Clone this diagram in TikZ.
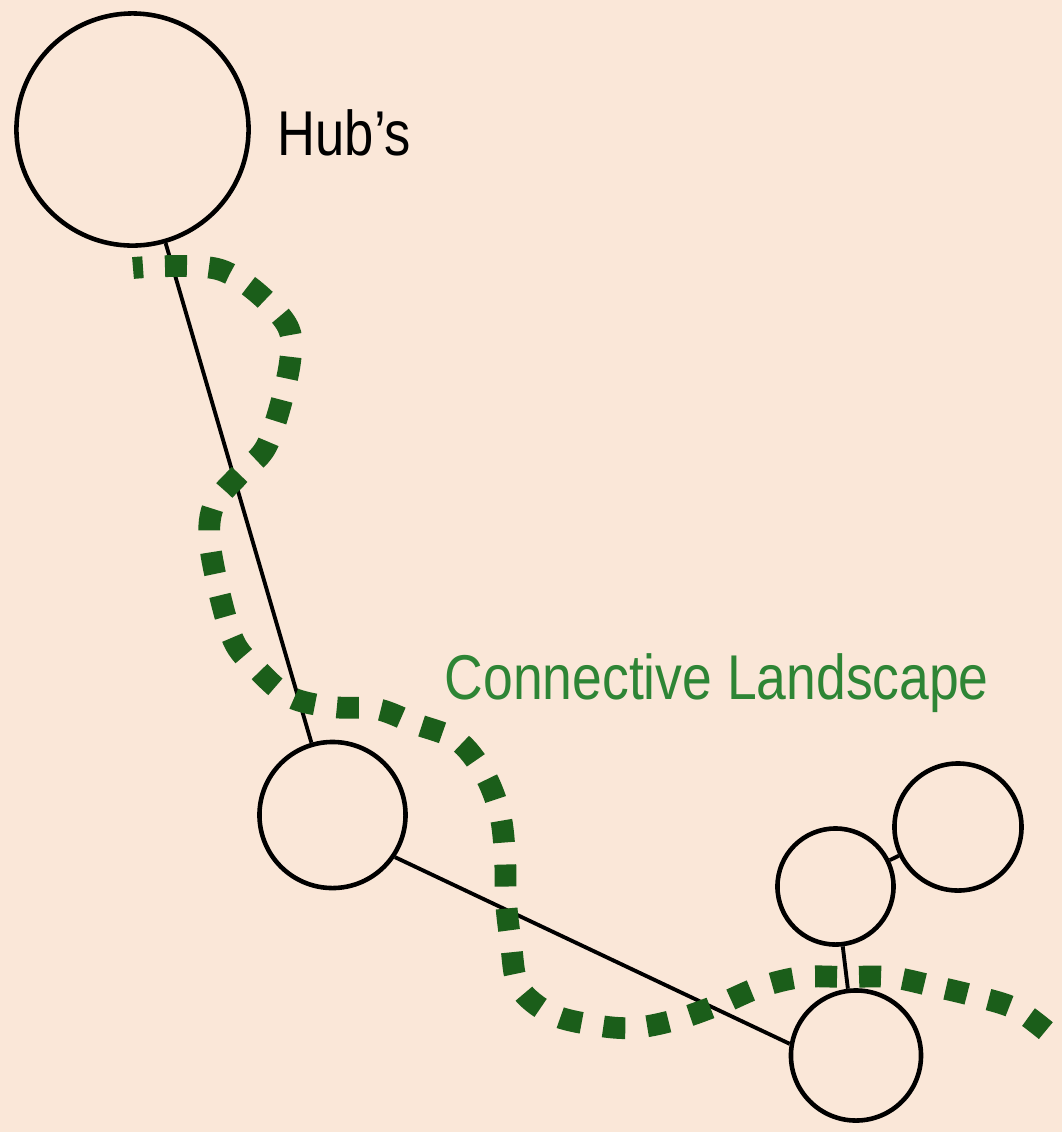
\documentclass[tikz,border=0pt]{standalone}
\usepackage{fontspec}
\setmainfont{Liberation Sans}[FakeStretch=0.83]
\newfontfamily\landfont{Liberation Sans}[FakeStretch=0.845]
\usetikzlibrary{positioning}

\definecolor{paper}{HTML}{FAE7D8}
\definecolor{landgreen}{HTML}{1B5E1A}
\definecolor{labgreen}{HTML}{2E8535}

\begin{document}
\begin{tikzpicture}[x=0.01cm, y=-0.01cm, font=\fontsize{18pt}{20pt}\selectfont,
  hub/.style={circle, draw, line width=1.3pt, inner sep=0pt},
  link/.style={line width=1.1pt},
  land/.style={landgreen, line width=6.2pt, dash pattern=on 0.22cm off 0.22cm, dash phase=0.12cm}]
  \fill[paper] (0,0) rectangle (1062,1132);
  \useasboundingbox (0,0) rectangle (1062,1132);

  \node[hub, minimum size=2.32cm] (big) at (132.5,129.5) {};
  \node[hub, minimum size=1.46cm] (mid) at (332.5,815) {};
  \node[hub, minimum size=1.30cm] (low) at (856,1055.5) {};
  \node[hub, minimum size=1.16cm] (small) at (835.5,886.5) {};
  \node[hub, minimum size=1.27cm] (side) at (958,827) {};

  \node[anchor=base west, inner sep=0pt] (hublab) at (277,155.5) {Hub’s};
  \node[anchor=base west, inner sep=0pt, text=labgreen, font=\fontsize{18pt}{20pt}\landfont] (landlab) at (444,699) {Connective Landscape};

  \draw[link] (big) -- (mid);
  \draw[link] (mid.-34) -- (low.170);
  \draw[link] (small) -- (low);
  \draw[link] (small) -- (side);

  \draw[land] plot[smooth, tension=0.55] coordinates {
    (133,268) (221,270) (283,319) (290,362) (268,443) (239,475) (213,507)
    (211,552) (232,637) (258,670) (290,697) (332,707) (377,709) (416,724)
    (457,740) (484,773) (500,814) (505,857) (506,901) (511,944) (519,987)
    (551,1014) (594,1025) (633,1028) (675,1020) (718,1005) (760,987)
    (802,977) (847,977) (890,977) (933,986) (975,996) (1016,1009)
    (1051,1035)};
\end{tikzpicture}
\end{document}
